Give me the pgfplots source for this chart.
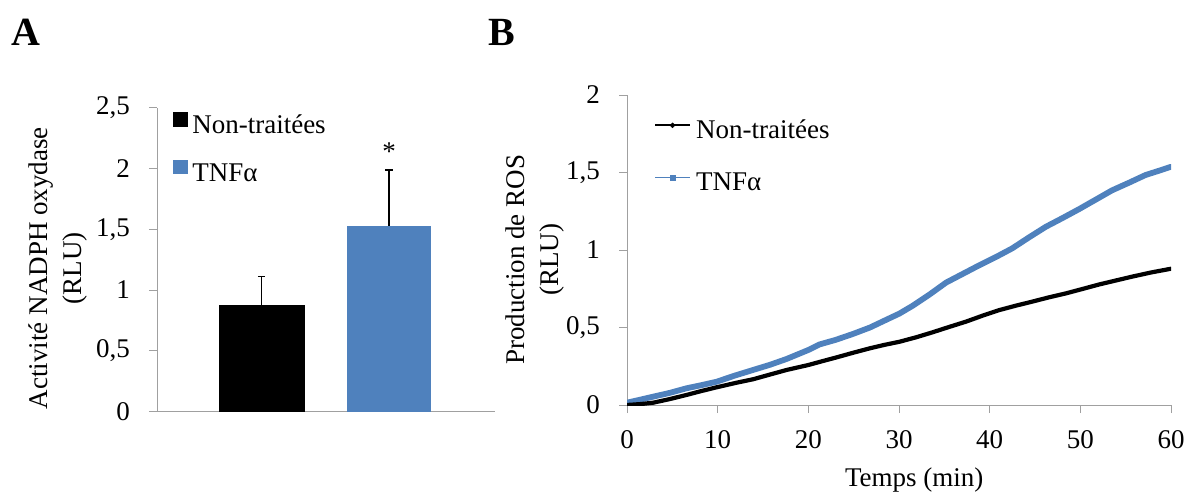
\documentclass[border=0pt]{standalone}
\usepackage{fontspec}
\setmainfont{Liberation Serif}
\usepackage{pgfplots}
\pgfplotsset{compat=1.18}
\definecolor{tnf}{RGB}{79,129,189}
\definecolor{axgray}{RGB}{160,160,160}
\pgfplotsset{
  common/.style={
    scale only axis,
    axis lines*=left,
    axis line style={axgray, line width=0.8pt},
    tick align=outside,
    major tick length=8pt,
    tick style={axgray, line width=0.8pt},
    /pgf/number format/assume math mode=true,
    tick label style={font=\fontsize{27}{32}\selectfont, black},
    yticklabel style={xshift=-10pt},
    xticklabel style={yshift=-8pt},
    label style={font=\fontsize{27}{34}\selectfont, black},
    legend style={draw=none, fill=none, inner sep=0pt, outer sep=0pt,
      font=\fontsize{27}{32}\selectfont,
      nodes={inner sep=0pt, text height=19pt, text depth=6pt},
      /tikz/every odd column/.append style={column sep=5pt}},
    legend cell align=left,
  }
}
\begin{document}
\fontsize{27}{32}\selectfont
\begin{tikzpicture}
\useasboundingbox (0,0) rectangle (1189pt,493pt);
\node[font=\fontsize{40}{40}\selectfont\bfseries] at (26pt,461pt) {A};
\node[font=\fontsize{40}{40}\selectfont\bfseries] at (502pt,461pt) {B};

% ---------------- Panel A ----------------
\begin{axis}[common,
  at={(157pt,81.5pt)}, anchor=south west,
  width=338pt, height=303.8pt,
  xmin=0.18, xmax=2.831, ymin=0, ymax=2.5,
  xtick=\empty,
  ytick={0,0.5,1,1.5,2,2.5},
  yticklabels={0,{0,5},1,{1,5},2,{2,5}},
  ylabel={Activité NADPH oxydase\\(RLU)},
  ylabel style={align=center, at={(axis description cs:-0.293,0.472)}, anchor=center},
  legend style={at={(axis description cs:0.047,0.985)}, anchor=north west, row sep=20pt},
]
\addlegendimage{legend image code/.code={\fill[black] (0pt,1.5pt) rectangle (14pt,15pt);}}
\addlegendentry{Non-traitées}
\addlegendimage{legend image code/.code={\fill[tnf] (0pt,1.5pt) rectangle (14pt,15pt);}}
\addlegendentry{TNFα}
\addplot[ybar, bar width=0.675, bar shift=0pt, fill=black, draw=none, forget plot,
  error bars/.cd, y dir=plus, y explicit, error mark=|,
  error bar style={draw=black, line width=1.3pt},
  error mark options={draw=black, line width=1.3pt, mark size=3.8pt}]
  coordinates {(1,0.88) +- (0,0.232)};
\addplot[ybar, bar width=0.66, bar shift=0pt, fill=tnf, draw=none, forget plot,
  error bars/.cd, y dir=plus, y explicit, error mark=|,
  error bar style={draw=black, line width=1.3pt},
  error mark options={draw=black, line width=1.3pt, mark size=3.8pt}]
  coordinates {(2,1.528) +- (0,0.46)};
\node[font=\fontsize{27}{27}\selectfont] at (axis cs:2,2.14) {*};
\end{axis}

% ---------------- Panel B ----------------
\begin{axis}[common,
  at={(627pt,88pt)}, anchor=south west,
  width=544pt, height=310pt,
  xmin=0, xmax=60, ymin=0, ymax=2,
  xtick={0,10,20,30,40,50,60},
  ytick={0,0.5,1,1.5,2},
  yticklabels={0,{0,5},1,{1,5},2},
  xlabel={Temps (min)},
  xlabel style={at={(axis description cs:0.528,-0.242)}, anchor=center},
  ylabel={Production de ROS\\(RLU)},
  ylabel style={align=center, at={(axis description cs:-0.169,0.468)}, anchor=center},
  legend style={at={(axis description cs:0.0495,0.92)}, anchor=north west, row sep=27pt},
]
\addlegendimage{legend image code/.code={\draw[black, line width=2.2pt] (0pt,7pt) -- (35pt,7pt); \fill[black] (17.5pt,4.5pt) -- (20pt,7pt) -- (17.5pt,9.5pt) -- (15pt,7pt) -- cycle;}}
\addlegendentry{Non-traitées}
\addlegendimage{legend image code/.code={\draw[tnf, line width=1.4pt] (0pt,7pt) -- (35pt,7pt); \fill[tnf] (15pt,4.5pt) rectangle (20pt,9.5pt);}}
\addlegendentry{TNFα}
\addplot[tnf, line width=5.8pt, line join=round, line cap=round, forget plot] coordinates {
(0,0.015) (1.5,0.035) (2.9,0.054) (4.7,0.078) (6.57,0.108) (8.2,0.128) (9.87,0.15)
(11.9,0.19) (13.9,0.226) (15.8,0.26) (17.6,0.297) (20,0.355) (21.2,0.39)
(23,0.42) (24.9,0.458) (26.8,0.5) (28.6,0.55) (30.05,0.59) (31.5,0.64)
(33.3,0.71) (35.2,0.79) (37,0.845) (38.9,0.903) (40.7,0.955) (42.5,1.011)
(44.3,1.08) (46.2,1.15) (48,1.205) (49.9,1.265) (51.7,1.325) (53.5,1.385)
(55.4,1.435) (57.2,1.484) (58.6,1.51) (60,1.537)};
\addplot[black, line width=4.2pt, line join=round, line cap=round, forget plot] coordinates {
(0,0.0) (1.5,0.006) (2.9,0.015) (4.7,0.038) (6.57,0.065) (8.2,0.09) (9.87,0.114)
(12.1,0.144) (13.9,0.166) (15.8,0.197) (17.6,0.226) (20,0.258) (21.5,0.282)
(23.1,0.307) (25,0.338) (26.8,0.366) (28.4,0.388) (30.05,0.408) (31.9,0.437)
(33.7,0.469) (35.5,0.503) (37.4,0.538) (39.2,0.576) (41.1,0.613) (42.9,0.641)
(44.7,0.667) (46.5,0.694) (48.4,0.72) (50.2,0.748) (52.1,0.778) (53.9,0.803)
(55.7,0.828) (57.8,0.855) (59.8,0.877) (60,0.879)};
\end{axis}
\end{tikzpicture}
\end{document}
